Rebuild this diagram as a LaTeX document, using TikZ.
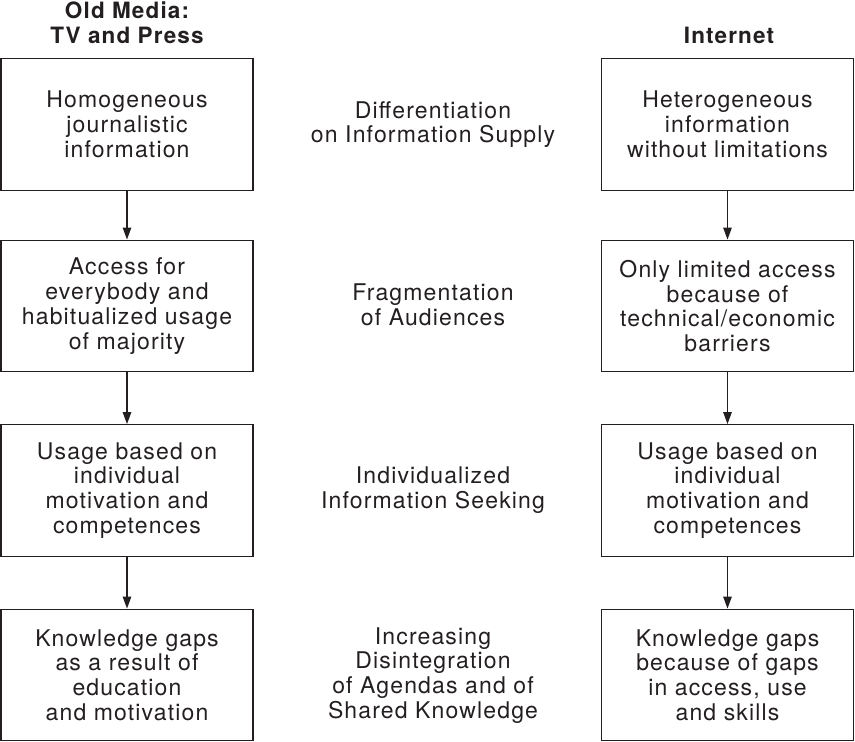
\documentclass[tikz,border=0pt]{standalone}
\usepackage{fontspec}
\setmainfont{TeX Gyre Heros}[LetterSpace=5]
\usetikzlibrary{arrows.meta}
\definecolor{ink}{HTML}{231F20}
\begin{document}
\begin{tikzpicture}[x=1pt,y=-1pt,
  txt/.style={font=\fontsize{23}{24.8}\selectfont, text=ink, align=center},
  stagebox/.style={txt, draw=ink, line width=1.4pt, minimum width=252pt, minimum height=131.5pt, inner sep=0pt},
  head/.style={txt, font=\fontsize{22.5}{24.8}\selectfont\bfseries},
  flow/.style={draw=ink, line width=1.3pt, -{Triangle[length=12pt,width=8.5pt]}}]
\useasboundingbox (0,0) rectangle (855,742);

% column headings
\node[head] (hl) at (127,23) {Old Media:\\TV and Press};
\node[head] (hr) at (729,35) {Internet};

% old media column
\node[stagebox] (l1) at (127,124.5) {Homogeneous\\journalistic\\information};
\node[stagebox] (l2) at (127,306) {Access for\\everybody and\\habitualized usage\\of majority};
\node[stagebox] (l3) at (127,490.5) {Usage based on\\individual\\motivation and\\competences};
\node[stagebox] (l4) at (127,675) {Knowledge gaps\\as a result of\\education\\and motivation};

% internet column
\node[stagebox] (r1) at (727.5,124.5) {Heterogeneous\\information\\without limitations};
\node[stagebox] (r2) at (727.5,306) {Only limited access\\because of\\technical/economic\\barriers};
\node[stagebox] (r3) at (727.5,490.5) {Usage based on\\individual\\motivation and\\competences};
\node[stagebox] (r4) at (727.5,675) {Knowledge gaps\\because of gaps\\in access, use\\and skills};

% middle labels
\node[txt] (m1) at (433,124.5) {Differentiation\\on Information Supply};
\node[txt] (m2) at (433,305) {Fragmentation\\of Audiences};
\node[txt] (m3) at (433,490) {Individualized\\Information Seeking};
\node[txt] (m4) at (433,675.5) {Increasing\\Disintegration\\of Agendas and of\\Shared Knowledge};

% arrows
\foreach \a/\b in {l1/l2,l2/l3,l3/l4,r1/r2,r2/r3,r3/r4}
  \draw[flow] (\a.south) -- (\b.north);
\end{tikzpicture}
\end{document}
